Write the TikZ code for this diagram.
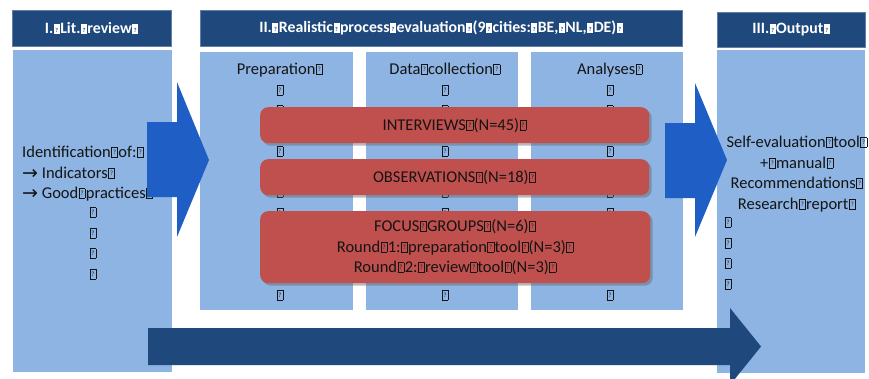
\documentclass[tikz,border=0pt]{standalone}
\usepackage{fontspec}
\setmainfont{Carlito}
\newfontfamily\arrowfont{DejaVu Sans}
\usetikzlibrary{shadows}
\definecolor{hdr}{RGB}{31,73,125}
\definecolor{lb}{RGB}{141,180,226}
\definecolor{chev}{RGB}{31,95,197}
\definecolor{rd}{RGB}{192,80,77}
\definecolor{txt}{RGB}{20,20,20}
\newcommand{\nd}{\hbox{\kern0.03em\vbox{\hrule height0.5pt\hbox{\vrule width0.5pt\hbox to 0.34em{\hss\vbox to 0.58em{\vss\hbox{\fontsize{6.5}{6.5}\selectfont ?}\vss}\hss}\vrule width0.5pt}\hrule height0.5pt}\kern0.03em}}
\newcommand{\ndw}{\hbox{\kern0.03em\rlap{\rule{0.38em}{0.62em}}\hbox to 0.38em{\hss\raisebox{0.1em}{\color{hdr}\fontsize{6}{6}\selectfont ?}\hss}\kern0.03em}}
\newcommand{\rarr}{{\arrowfont\fontsize{19}{16}\selectfont\raisebox{-0.05em}{→}}}
\tikzset{
  colbox/.style={fill=lb, draw=none},
  hdrbox/.style={fill=hdr, draw=hdr!70!white, line width=0.6pt, text=white, font=\fontsize{15.8}{18}\selectfont\bfseries, inner sep=0pt},
  bodytxt/.style={text=txt, font=\fontsize{16.5}{20.5}\selectfont, inner sep=0pt},
  redbox/.style={fill=rd, draw=none, rounded corners=8pt, text=txt, font=\fontsize{16.5}{20.5}\selectfont, align=center, inner sep=0pt,
     drop shadow={shadow xshift=2.5pt, shadow yshift=-2.5pt, opacity=0.45, fill=black!60}},
  chevron/.style={fill=chev, draw=none},
  bigarrow/.style={fill=hdr, draw=none}
}
\begin{document}
\begin{tikzpicture}[x=1pt,y=-1pt]
\useasboundingbox (0,0) rectangle (869,378);
% columns
\node[colbox, minimum width=159pt, minimum height=322pt, anchor=north west] (lcol) at (13,50) {};
\node[colbox, minimum width=153pt, minimum height=258pt, anchor=north west] (c1) at (200,52) {};
\node[colbox, minimum width=152pt, minimum height=258pt, anchor=north west] (c2) at (366,52) {};
\node[colbox, minimum width=152pt, minimum height=258pt, anchor=north west] (c3) at (531,52) {};
\node[colbox, minimum width=148pt, minimum height=323pt, anchor=north west] (rcol) at (717,50) {};
% headers
\node[hdrbox, minimum width=159pt, minimum height=36pt, anchor=north west] (h1) at (12,10) {I.\ndw Lit.\ndw review\ndw};
\node[hdrbox, minimum width=482pt, minimum height=36pt, anchor=north west] (h2) at (200,10) {II.\ndw Realistic\ndw process\ndw evaluation\ndw (9\ndw cities:\ndw BE,\ndw NL,\ndw DE)\ndw};
\node[hdrbox, minimum width=148pt, minimum height=35pt, anchor=north west] (h3) at (717,12) {III.\ndw Output\ndw};
% column texts
\node[bodytxt, align=center, anchor=north] (t1) at (280,63) {Preparation\nd\\\nd\\\nd\\\nd\\\nd\\\nd\\\nd\\\nd\\\nd\\\nd\\\nd\\\nd};
\node[bodytxt, align=center, anchor=north] (t2) at (445,63) {Data\nd collection\nd\\\nd\\\nd\\\nd\\\nd\\\nd\\\nd\\\nd\\\nd\\\nd\\\nd\\\nd};
\node[bodytxt, align=center, anchor=north] (t3) at (610,63) {Analyses\nd\\\nd\\\nd\\\nd\\\nd\\\nd\\\nd\\\nd\\\nd\\\nd\\\nd\\\nd};
% left column text
\node[bodytxt, align=left, anchor=north west] (lt) at (22,146) {Identification\nd of:\nd\\\rarr\ Indicators\nd\\\rarr\ Good\nd practices\nd};
\node[bodytxt, align=center, anchor=north] (lb) at (93,207) {\nd\\\nd\\\nd\\\nd};
% right column text
\node[bodytxt, align=center, anchor=north] (rt) at (797,136) {Self-evaluation\nd tool\nd\\+\nd manual\nd\\Recommendations\nd\\Research\nd report\nd};
\node[bodytxt, align=left, anchor=north west] (rb) at (724,217) {\nd\\\nd\\\nd\\\nd};
% chevron arrows
\path[chevron] (147,122) -- (177,122) -- (177,82) -- (209,160) -- (177,237) -- (177,197) -- (147,197) -- cycle;
\path[chevron] (665,123) -- (695,123) -- (695,83) -- (727,160) -- (695,237) -- (695,198) -- (665,198) -- cycle;
% red boxes
\node[redbox, minimum width=389pt, minimum height=36pt, anchor=north west] (iv) at (260,107) {INTERVIEWS\nd(N=45)\nd};
\node[redbox, minimum width=389pt, minimum height=36pt, anchor=north west] (ob) at (260,159) {OBSERVATIONS\nd(N=18)\nd};
\node[redbox, minimum width=390pt, minimum height=72pt, anchor=north west] (fg) at (260,211) {FOCUS\nd GROUPS\nd(N=6)\nd\\Round\nd 1:\nd preparation\nd tool\nd(N=3)\nd\\Round\nd 2:\nd review\nd tool\nd(N=3)\nd};
% bottom arrow
\path[bigarrow] (148,328) -- (730,328) -- (730,308) -- (761,346.5) -- (730,385) -- (730,365) -- (148,365) -- cycle;
\end{tikzpicture}
\end{document}
